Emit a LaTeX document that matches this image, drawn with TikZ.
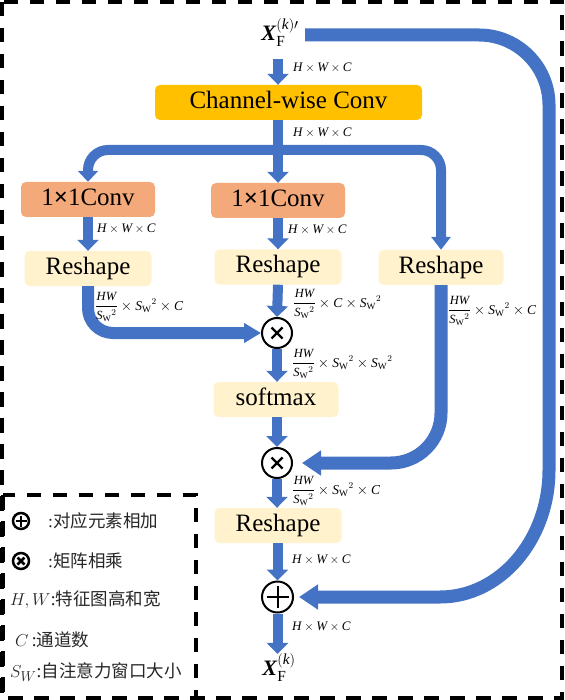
\documentclass[tikz,border=0pt]{standalone}
\usepackage{fontspec}
\usepackage{amsmath}
\setmainfont{Liberation Serif}
\newfontfamily\cjk{Noto Sans CJK SC}
\usetikzlibrary{arrows.meta,calc}
\definecolor{ablue}{HTML}{4472C4}
\definecolor{cwfill}{HTML}{FFC000}
\definecolor{convfill}{HTML}{F4A97A}
\definecolor{rsfill}{HTML}{FFF2CC}
\newcommand{\mi}[1]{\textit{#1}}
\newcommand{\swsq}{\mi{S}_{\text{W}}{}^{2}}
\newcommand{\hwc}{$\mi{H}\times\mi{W}\times\mi{C}$}
\newcommand{\frhw}{\genfrac{}{}{0.5pt}{0}{\text{\fontsize{12.5}{12.5}\selectfont\itshape HW}}{\text{\fontsize{12.5}{12.5}\selectfont$\swsq$}}}
\begin{document}
\begin{tikzpicture}[x=1pt,y=-1pt,
  box/.style={rounded corners=5pt, minimum height=35pt, inner sep=0pt,
    font=\fontsize{25}{25}\selectfont, text height=17pt, text depth=5.5pt, text=black},
  cwbox/.style={box, fill=cwfill, minimum width=267pt},
  convbox/.style={box, fill=convfill, minimum width=134pt},
  rsbox/.style={box, fill=rsfill, minimum width=127pt},
  flow/.style={draw=ablue, line width=10pt, -{Triangle[width=21pt,length=11pt]}},
  bigflow/.style={draw=ablue, line width=13pt, -{Triangle[width=24pt,length=19pt]}},
  lab/.style={anchor=west, inner sep=0pt, font=\fontsize{13}{13}\selectfont},
  fraclab/.style={anchor=west, inner sep=0pt, font=\fontsize{13.5}{13.5}\selectfont},
  opnode/.style={circle, draw=black, line width=2pt, minimum size=30pt, inner sep=0pt},
  otimesop/.style={opnode, path picture={
    \draw[line width=2.2pt] ($(path picture bounding box.center)+(-5.5,-5.5)$) -- ($(path picture bounding box.center)+(5.5,5.5)$);
    \draw[line width=2.2pt] ($(path picture bounding box.center)+(-5.5,5.5)$) -- ($(path picture bounding box.center)+(5.5,-5.5)$);}},
  oplusop/.style={opnode, minimum size=31pt, path picture={
    \draw[line width=2pt] ($(path picture bounding box.center)+(-11,0)$) -- ($(path picture bounding box.center)+(11,0)$);
    \draw[line width=2pt] ($(path picture bounding box.center)+(0,-11)$) -- ($(path picture bounding box.center)+(0,11)$);}},
  legicon/.style={circle, draw=black, line width=2.5pt, minimum size=16pt, inner sep=0pt},
  legtext/.style={anchor=west, inner sep=0pt, font=\fontsize{17.5}{17.5}\selectfont, text=black!85},
  border/.style={draw=black, line width=4pt, dash pattern=on 14.5pt off 11.5pt},
  xlab/.style={inner sep=0pt, font=\fontsize{22}{22}\selectfont}
]
\useasboundingbox (0,0) rectangle (564,700);

% borders
\draw[border] (2,2) rectangle (562,698);
\draw[border] (3,495) rectangle (196,698);

% nodes
\node[xlab] (xf1) at (280,33) {$\textbf{\textit{X}}_{\text{F}}^{(\mi{k})\prime}$};
\node[cwbox] (cw) at (288.5,102.5) {Channel-wise Conv};
\node[convbox] (c1) at (88,199.5) {1{\bfseries ×}1Conv};
\node[convbox] (c2) at (278,200.5) {1{\bfseries ×}1Conv};
\node[rsbox] (r1) at (88,268.5) {Reshape};
\node[rsbox] (r2) at (278,267) {Reshape};
\node[rsbox, minimum width=125pt] (r3) at (441,267.5) {Reshape};
\node[otimesop] (m1) at (277,333) {};
\node[rsbox, minimum width=125pt] (sm) at (276,399.5) {softmax};
\node[otimesop] (m2) at (277,463) {};
\node[rsbox] (r4) at (278,525.5) {Reshape};
\node[oplusop] (p) at (277.5,597) {};
\node[xlab] (xf) at (279,668) {$\textbf{\textit{X}}_{\text{F}}^{(\mi{k})}$};

\coordinate (br) at (278,150);
\coordinate (bs) at (305,35);

% connectors
\draw[flow, shorten <=12pt] (c2.north |- xf1.south) -- (c2.north |- cw.north);
\draw[flow] (c2.north |- cw.south) -- (c2.north);
\draw[draw=ablue, line width=10pt, rounded corners=20pt,
  {Triangle[width=20pt,length=11pt]}-{Triangle[width=19pt,length=13pt]}]
  (c1.north) |- (br) -| (r3.north);
\draw[flow] (c1.south) -- (r1.north);
\draw[flow] (c2.south) -- (r2.north);
\draw[flow] (r2.south) -- (m1.north);
\draw[draw=ablue, line width=12pt, rounded corners=25pt, -{Triangle[width=19pt,length=17pt]}]
  (r1.south) |- (m1.west);
\draw[flow] (m1.south) -- (m1.south |- sm.north);
\draw[flow] (m2.north |- sm.south) -- (m2.north);
\draw[bigflow, rounded corners=50pt, shorten >=9pt] (r3.south) |- (m2.east);
\draw[flow] (m2.south) -- (m2.south |- r4.north);
\draw[flow] (p.north |- r4.south) -- (p.north);
\draw[flow] (p.south) -- (p.south |- xf.north);
\draw[bigflow, shorten >=5pt] (bs) -- (479,35) .. controls (517.6,35) and (549,66.4) .. (549,105)
  -- (549,470) .. controls (549,540) and (500,597) .. (440,597) -- (p.east);

% labels
\node[lab] (l1) at (293,68) {\hwc};
\node[lab] (l2) at (293,133) {\hwc};
\node[lab] (l3) at (97,229) {\hwc};
\node[lab] (l4) at (288,230) {\hwc};
\node[fraclab] (l5) at (95,307) {$\frhw\times\swsq\times\mi{C}$};
\node[fraclab] (l6) at (293,304) {$\frhw\times\mi{C}\times\swsq$};
\node[fraclab] (l7) at (448,311) {$\frhw\times\swsq\times\mi{C}$};
\node[fraclab] (l8) at (292,364) {$\frhw\times\swsq\times\swsq$};
\node[fraclab] (l9) at (292,491) {$\frhw\times\swsq\times\mi{C}$};
\node[lab] (l10) at (292,560) {\hwc};
\node[lab] (l11) at (292,627) {\hwc};

% legend
\node[legicon, path picture={
    \draw[line width=2.5pt] ($(path picture bounding box.center)+(-5.5,0)$) -- ($(path picture bounding box.center)+(5.5,0)$);
    \draw[line width=2.5pt] ($(path picture bounding box.center)+(0,-5.5)$) -- ($(path picture bounding box.center)+(0,5.5)$);}]
  (lg1) at (21,521) {};
\node[legicon, path picture={
    \draw[line width=2.5pt] ($(path picture bounding box.center)+(-3.5,-3.5)$) -- ($(path picture bounding box.center)+(3.5,3.5)$);
    \draw[line width=2.5pt] ($(path picture bounding box.center)+(-3.5,3.5)$) -- ($(path picture bounding box.center)+(3.5,-3.5)$);}]
  (lg2) at (21,561) {};
\node[legtext] (lt1) at (48,521) {:{\cjk 对应元素相加}};
\node[legtext] (lt2) at (48,561) {:{\cjk 矩阵相乘}};
\node[legtext] (lt3) at (10,600) {\fontsize{19}{19}\selectfont$H,W$:{\fontsize{17.5}{17.5}\selectfont\cjk 特征图高和宽}};
\node[legtext] (lt4) at (15,640) {\fontsize{19}{19}\selectfont$C$\,:{\fontsize{17.5}{17.5}\selectfont\cjk 通道数}};
\node[legtext] (lt5) at (10,672) {\fontsize{19}{19}\selectfont$S_W$:{\fontsize{17.5}{17.5}\selectfont\cjk 自注意力窗口大小}};
\end{tikzpicture}
\end{document}
